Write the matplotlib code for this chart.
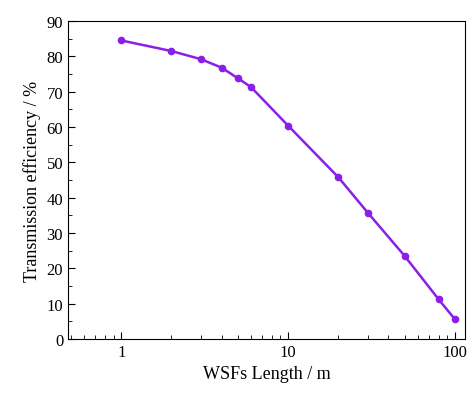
import matplotlib
matplotlib.use("Agg")
import matplotlib.pyplot as plt
from matplotlib.ticker import MultipleLocator, FixedLocator, FixedFormatter

plt.rcParams['font.family'] = ['Liberation Serif', 'DejaVu Serif']

length = [1, 2, 3, 4, 5, 6, 10, 20, 30, 50, 80, 100]
efficiency = [84.5, 81.5, 79.2, 76.8, 73.8, 71.3, 60.4, 45.8, 35.8, 23.5, 11.2, 5.6]

fig = plt.figure(figsize=(4.74, 4.02), dpi=100)
ax = fig.add_axes([68/474, 62/402, 397/474, 318/402])
ax.plot(length, efficiency, color='#8B1FE8', lw=1.8, marker='o', ms=4.5)

ax.set_xscale('log')
ax.set_xlim(0.48, 115)
ax.set_ylim(0, 90)
ax.xaxis.set_major_locator(FixedLocator([1, 10, 100]))
ax.xaxis.set_major_formatter(FixedFormatter(['1', '10', '100']))
ax.yaxis.set_major_locator(MultipleLocator(10))
ax.yaxis.set_minor_locator(MultipleLocator(5))
ax.tick_params(which='both', direction='in', labelsize=12)
ax.tick_params(which='major', length=5)
ax.tick_params(which='minor', length=3)
ax.set_xlabel('WSFs Length / m', fontsize=13)
ax.set_ylabel('Transmission efficiency / %', fontsize=13)

fig.savefig('out.png', dpi=100)
